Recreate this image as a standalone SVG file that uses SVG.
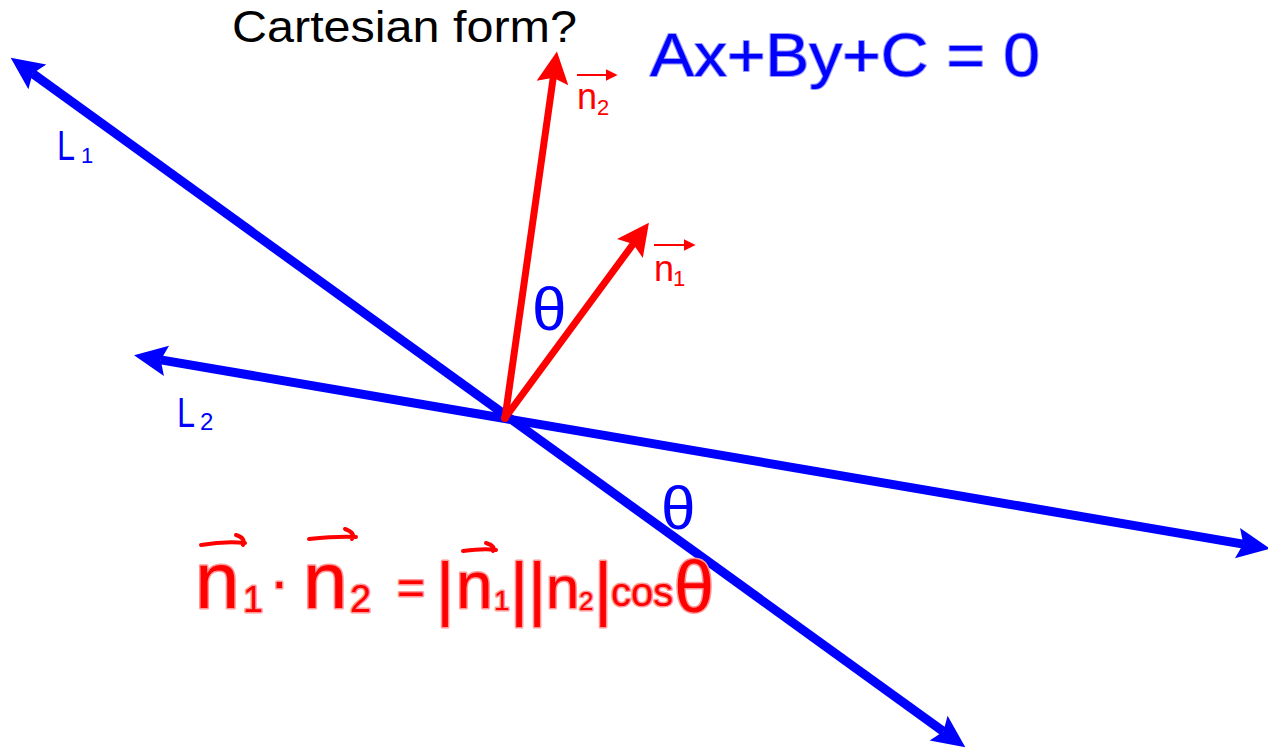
<svg xmlns="http://www.w3.org/2000/svg" width="1268" height="749" viewBox="0 0 1268 749">
<style>
.blue{stroke:#0000ff;stroke-width:9;fill:none}
.red{stroke:#ff0000;stroke-width:7;fill:none;stroke-linecap:round}
.lbl{font-family:"Liberation Sans",Arial,sans-serif}
.hb{fill:#0000ff;stroke:#9999ff;stroke-width:2;paint-order:stroke;stroke-linejoin:round}
.hr{fill:#ff0000;stroke:#ff9999;stroke-width:3;paint-order:stroke;stroke-linejoin:round}
.hrs{stroke:#ff0000;stroke-width:4;fill:none;stroke-linecap:round;stroke-linejoin:round}
.sa{stroke:#ff0000;stroke-width:2;fill:none}
</style>
<defs>
<marker id="ab" markerUnits="userSpaceOnUse" markerWidth="40" markerHeight="40" viewBox="-2 -16 34 32" refX="5" refY="0" orient="auto-start-reverse">
<path d="M0,-13 L28,0 L0,13 L5,0 Z" fill="#0000ff"/>
</marker>
<marker id="ar" markerUnits="userSpaceOnUse" markerWidth="40" markerHeight="40" viewBox="-2 -14 30 28" refX="4" refY="0" orient="auto">
<path d="M0,-12 L24,0 L0,12 L4,0 Z" fill="#ff0000"/>
</marker>
<marker id="as" markerUnits="userSpaceOnUse" markerWidth="12" markerHeight="12" viewBox="0 -5 10 10" refX="2" refY="0" orient="auto">
<path d="M0,-5 L10,0 L0,5 Z" fill="#ff0000"/>
</marker>
</defs>
<rect width="1268" height="749" fill="#ffffff"/>
<g id="connectors">
<line id="L1" class="blue" x1="32.6" y1="73.5" x2="943.4" y2="731.5" marker-start="url(#ab)" marker-end="url(#ab)"/>
<line id="L2" class="blue" x1="160.7" y1="359.9" x2="1243.3" y2="544.1" marker-start="url(#ab)" marker-end="url(#ab)"/>
<line id="n2vec" class="red" x1="505" y1="418" x2="553.2" y2="77.8" marker-end="url(#ar)"/>
<line id="n1vec" class="red" x1="505" y1="418" x2="633.1" y2="244.1" marker-end="url(#ar)"/>
<circle cx="505" cy="418" r="4" fill="#ff0000"/>
</g>
<g id="title">
<text class="lbl" x="232" y="42" font-size="45" fill="#000000" textLength="345" lengthAdjust="spacingAndGlyphs">Cartesian form?</text>
</g>
<g id="equation">
<text class="lbl hb" x="650" y="76" font-size="62" textLength="390" lengthAdjust="spacingAndGlyphs">Ax+By+C = 0</text>
</g>
<g id="label-L1">
<text class="lbl" x="57" y="160" font-size="42" fill="#0000ff" textLength="18" lengthAdjust="spacingAndGlyphs">L</text>
<text class="lbl" x="81" y="163" font-size="22" fill="#0000ff">1</text>
</g>
<g id="label-L2">
<text class="lbl" x="177" y="427" font-size="42" fill="#0000ff" textLength="18" lengthAdjust="spacingAndGlyphs">L</text>
<text class="lbl" x="200" y="430" font-size="24" fill="#0000ff">2</text>
</g>
<g id="label-n2">
<line class="sa" x1="577" y1="75" x2="608" y2="75" marker-end="url(#as)"/>
<text class="lbl" x="577" y="109" font-size="36" fill="#ff0000">n</text>
<text class="lbl" x="597" y="115" font-size="22" fill="#ff0000">2</text>
</g>
<g id="label-n1">
<line class="sa" x1="654" y1="245" x2="686" y2="245" marker-end="url(#as)"/>
<text class="lbl" x="654" y="281" font-size="36" fill="#ff0000">n</text>
<text class="lbl" x="673" y="286" font-size="22" fill="#ff0000">1</text>
</g>
<g id="theta-top">
<text class="lbl" x="532" y="330" font-size="62" fill="#0000ff">θ</text>
</g>
<g id="theta-bottom">
<text class="lbl" x="661" y="529" font-size="62" fill="#0000ff">θ</text>
</g>
<g id="formula">
<path class="hrs" d="M201,545 Q225,541 245,543 M236,535 Q246,538 243,545"/>
<path class="hrs" d="M309,539 Q338,536 356,537 M345,529 Q356,533 352,539"/>
<path class="hrs" d="M463,551 Q485,548 496,550 M486,543 Q496,546 493,551"/>
<text class="lbl hr" y="608" font-size="80"><tspan x="195">n</tspan><tspan x="243" y="612" font-size="36">1</tspan><tspan x="270" y="600" font-size="56">·</tspan><tspan x="303" y="608">n</tspan><tspan x="350" y="612" font-size="38">2</tspan><tspan x="397" y="604" font-size="48">=</tspan><tspan x="436" y="612" font-size="70">|</tspan><tspan x="456" y="608" font-size="66">n</tspan><tspan x="494" y="610" font-size="28">1</tspan><tspan x="510" y="612" font-size="70">|</tspan><tspan x="528" y="612" font-size="70">|</tspan><tspan x="546" y="608" font-size="60">n</tspan><tspan x="579" y="610" font-size="26">2</tspan><tspan x="594" y="612" font-size="70">|</tspan><tspan x="611" y="606" font-size="40">cos</tspan><tspan x="674" y="612" font-size="72">θ</tspan></text>
</g>
</svg>
